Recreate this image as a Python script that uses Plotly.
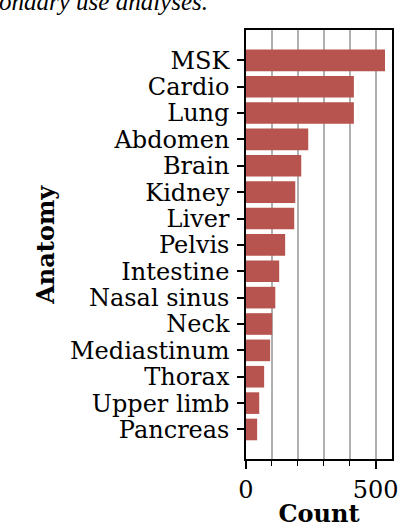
import plotly.graph_objects as go

# bottom to top
anatomy = ["Pancreas", "Upper limb", "Thorax", "Mediastinum", "Neck", "Nasal sinus",
           "Intestine", "Pelvis", "Liver", "Kidney", "Brain", "Abdomen", "Lung", "Cardio", "MSK"]
counts = [43, 51, 70, 93, 101, 113, 128, 151, 186, 190, 213, 240, 416, 416, 536]

BAR = "#b8544f"
GRID = "#b0b0b0"
FONT = "DejaVu Serif"

fig = go.Figure()
fig.add_trace(go.Bar(
    x=counts,
    y=anatomy,
    orientation="h",
    marker=dict(color=BAR, line=dict(width=0)),
    width=0.82,
))

# caption line of the page above the figure, cut at the top edge
fig.add_annotation(
    text="<i>ondary use analyses.</i>",
    xref="paper", yref="paper", x=-0.245, y=1.066,
    xanchor="right", yanchor="middle", showarrow=False,
    font=dict(family="Liberation Serif", size=25, color="black"),
)
fig.add_annotation(
    text="<b>Anatomy</b>",
    xref="paper", yref="paper", x=-1.375, y=0.5,
    xanchor="center", yanchor="middle", showarrow=False,
    textangle=-90,
    font=dict(family=FONT, size=24, color="black"),
)

fig.update_layout(
    width=398,
    height=528,
    margin=dict(l=246, r=6, t=30, b=69, autoexpand=False),
    paper_bgcolor="white",
    plot_bgcolor="white",
    showlegend=False,
    font=dict(family=FONT, size=24, color="black"),
    xaxis=dict(
        automargin=False,
        range=[0, 563],
        tickvals=[0, 500],
        ticks="outside",
        ticklen=8,
        tickwidth=1.5,
        tickcolor="black",
        ticklabeloverflow="allow",
        showline=True,
        linecolor="black",
        linewidth=1.5,
        mirror=True,
        showgrid=True,
        gridcolor=GRID,
        gridwidth=1.5,
        zeroline=False,
        minor=dict(dtick=100, tick0=0, ticks="outside", ticklen=5, tickwidth=1.2,
                   tickcolor="black", showgrid=True, gridcolor=GRID, gridwidth=1.5),
        title=dict(text="<b>Count</b>", font=dict(family=FONT, size=24), standoff=9),
        tickfont=dict(family=FONT, size=24),
    ),
    yaxis=dict(
        automargin=False,
        type="category",
        range=[-1.12, 15.15],
        tickmode="array",
        tickvals=anatomy,
        ticktext=anatomy,
        ticks="outside",
        ticklen=7,
        tickwidth=1.5,
        tickcolor="black",
        showline=True,
        linecolor="black",
        linewidth=1.5,
        mirror=True,
        showgrid=False,
        zeroline=False,
        tickfont=dict(family=FONT, size=24),
        ticklabelstandoff=3,
    ),
)

fig.write_html("out.html", config={"displayModeBar": False},
               post_script="document.body.style.margin='0';")
